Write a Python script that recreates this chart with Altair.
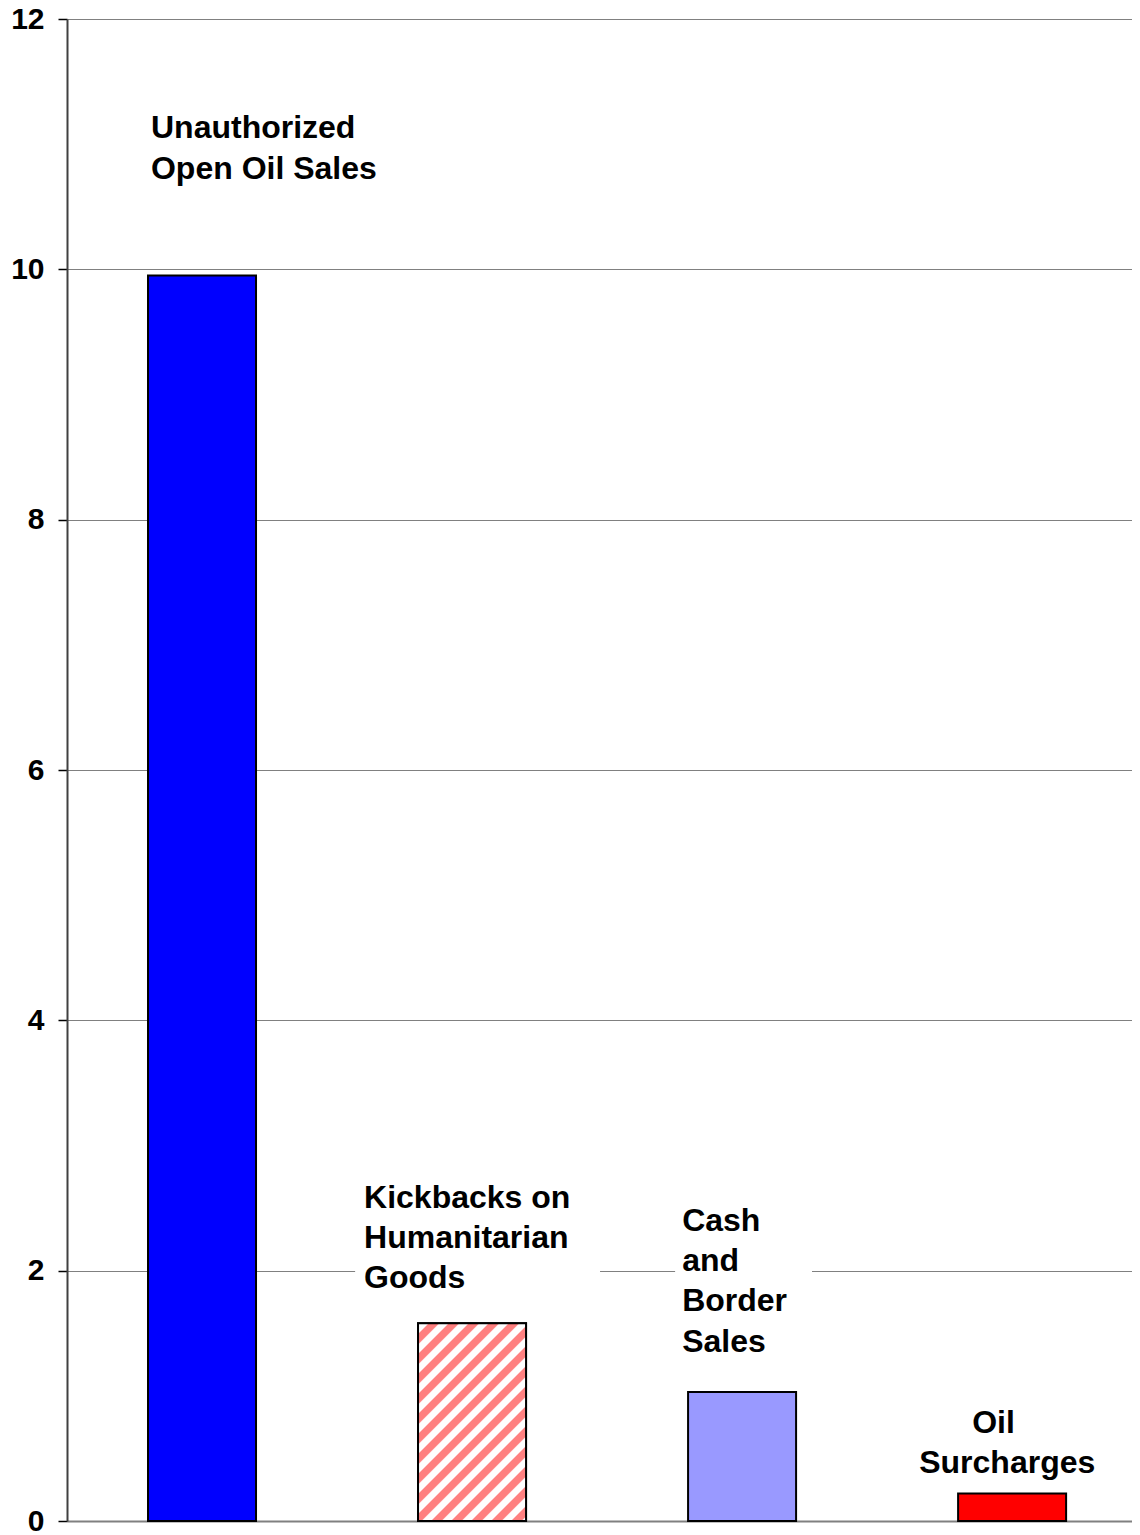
import altair as alt
import pandas as pd

# ---- data ----
categories = [
    "Unauthorized Open Oil Sales",
    "Kickbacks on Humanitarian Goods",
    "Cash and Border Sales",
    "Oil Surcharges",
]
values = [9.95, 1.58, 1.03, 0.22]
positions = [0.5, 1.5, 2.5, 3.5]          # category centres on the x axis
bar_colors = ["#0000ff", "#ffffff", "#9999ff", "#ff0000"]

label_text = [
    "Unauthorized\nOpen Oil Sales",
    "Kickbacks on\nHumanitarian\nGoods",
    "Cash\nand\nBorder\nSales",
    "Oil",
    "Surcharges",
]
label_x = [0.311, 1.100, 2.278, 3.352, 3.156]
label_y = [11.046, 2.503, 2.319, 0.707, 0.387]

# white backdrops behind labels that sit on a gridline
box_x = [1.067, 2.252]
box_x2 = [1.974, 2.759]
box_y = [2.75, 2.65]
box_y2 = [1.75, 1.20]

y_ticks = [0, 2, 4, 6, 8, 10, 12]
x_max = 3.944

# ---- layout ----
W, H = 1065, 1502
BAR_W = 0.4
FONT = "Liberation Sans"

bars = pd.DataFrame({
    "category": categories,
    "value": values,
    "left": [p - BAR_W / 2 for p in positions],
    "right": [p + BAR_W / 2 for p in positions],
    "base": [0] * len(values),
})
labels = pd.DataFrame({"text": label_text, "x": label_x, "y": label_y})
boxes = pd.DataFrame({"x": box_x, "x2": box_x2, "y": box_y, "y2": box_y2})

xscale = alt.Scale(domain=[0, x_max], nice=False, zero=False)
yscale = alt.Scale(domain=[0, 12], nice=False)

# hatched fill as a hard-stop linear gradient (45 degree stripes)
w_px = BAR_W * W / x_max
h_px = values[1] * H / 12
L = w_px + h_px
a = L / (w_px ** 2 + h_px ** 2)
period = 20.0
pink = "#ff8080"
stops = []
k = -1
while True:
    c = 16 + k * period
    if c - 6 > L:
        break
    for off, col in [(c - 6, "#ffffff"), (c - 4.5, pink), (c + 4.5, pink), (c + 6, "#ffffff")]:
        t = min(max(off / L, 0.0), 1.0)
        stops.append({"offset": t, "color": col})
    k += 1
hatch = {
    "gradient": "linear",
    "x1": 0, "y1": 0,
    "x2": a * w_px, "y2": a * h_px,
    "stops": stops,
}

base_x = alt.X("left:Q", scale=xscale,
               axis=alt.Axis(labels=False, ticks=False, title=None, grid=False,
                             domainColor="#808080", domainWidth=2))
base_y = alt.Y("value:Q", scale=yscale,
               axis=alt.Axis(values=y_ticks, title=None, format="d"))

box_layer = alt.Chart(boxes).mark_rect(color="white").encode(
    x=alt.X("x:Q", scale=xscale), x2="x2:Q",
    y=alt.Y("y:Q", scale=yscale), y2="y2:Q",
)

bar_layer = alt.Chart(bars).mark_rect(stroke="black", strokeWidth=2).encode(
    x=base_x, x2="right:Q",
    y=base_y, y2="base:Q",
    color=alt.Color("category:N", scale=alt.Scale(domain=categories, range=bar_colors),
                    legend=None),
)

hatch_layer = alt.Chart(bars).transform_filter(
    alt.datum.category == categories[1]
).mark_rect(fill=hatch, stroke="black", strokeWidth=2).encode(
    x=alt.X("left:Q", scale=xscale), x2="right:Q",
    y=alt.Y("value:Q", scale=yscale), y2="base:Q",
)

text_layer = alt.Chart(labels).mark_text(
    align="left", baseline="alphabetic", font=FONT, fontWeight="bold",
    fontSize=32, lineHeight=40.3, lineBreak="\n", color="black",
).encode(
    x=alt.X("x:Q", scale=xscale),
    y=alt.Y("y:Q", scale=yscale),
    text="text:N",
)

chart = alt.layer(bar_layer, box_layer, hatch_layer, text_layer).properties(
    width=W, height=H,
    autosize=alt.AutoSizeParams(type="none"),
    padding={"left": 59, "top": 11, "right": 0, "bottom": 14},
    background="white",
).configure_view(stroke=None).configure_axisY(
    labelFont=FONT, labelFontWeight="bold", labelFontSize=30, labelColor="black",
    labelPadding=14, tickSize=9, tickColor="black", tickWidth=1.5,
    domainColor="#404040", domainWidth=2,
    gridColor="#808080", gridWidth=1,
)

chart.save("out.html", embed_options={"renderer": "svg", "actions": False})
